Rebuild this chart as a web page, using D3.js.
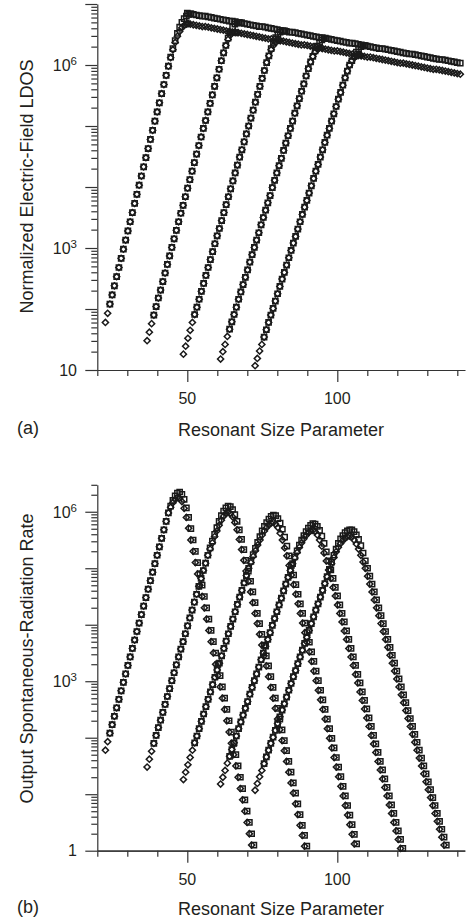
<!DOCTYPE html>
<html><head><meta charset="utf-8">
<script src="https://cdn.jsdelivr.net/npm/d3@7"></script>
<style>
html,body{margin:0;padding:0;background:#fff;}
svg{display:block;}
text{font-family:"Liberation Sans", Arial, Helvetica, sans-serif; fill:#231f20;}
</style></head><body>
<svg id="chart" width="466" height="924"></svg>
<script>
// ---------------- DATA (values are log10 of the plotted quantity) ----------------
const xTickValues = [20,30,40,50,60,70,80,90,100,110,120,130,140];
const xTickLabels = [50,100];
const yLabelValuesA = [10,1000,1000000];
const yLabelTextsA = ["10","10^3","10^6"];
const yLabelValuesB = [1,1000,1000000];
const yLabelTextsB = ["1","10^3","10^6"];
const xTitle = "Resonant Size Parameter";
const yTitleA = "Normalized Electric-Field LDOS";
const yTitleB = "Output Spontaneous-Radiation Rate";

// curve 1
const x1 = [22.7,23.45,24.2,24.95,25.7,26.45,27.2,27.95,28.7,29.45,30.2,30.95,31.7,32.45,33.2,33.95,34.7,35.45,36.2,36.95,37.7,38.45,39.2,39.95,40.7,41.45,42.2,42.95,43.7,44.45,45.2,45.95,46.7,47.45,48.2,48.95,49.7,50.45,51.2,51.95,52.7,53.45,54.2,54.95,55.7,56.45,57.2,57.95,58.7,59.45,60.2,60.95,61.7,62.45,63.2,63.95,64.7,65.45,66.2,66.95,67.7,68.45,69.2,69.95,70.7,71.45,72.2];
const rise1 = [1.78,1.93,2.08,2.23,2.38,2.53,2.68,2.83,2.98,3.13,3.28,3.43,3.58,3.73,3.88,4.03,4.18,4.33,4.48,4.63,4.78,4.93,5.08,5.23,5.38,5.53,5.68,5.83,5.98];
const aTail1D = [6.12,6.25,6.37,6.47,6.55,6.61,6.65,6.67,6.68];
const aTail1S = [6.13,6.27,6.40,6.52,6.62,6.70,6.76,6.80,6.83,6.84];
const bTail1S = [6.10,6.20,6.28,6.33,6.35,6.31,6.22,6.07,5.90,5.70,5.50,5.30,5.10,4.90,4.70,4.50,4.30,4.10,3.90,3.70,3.50,3.30,3.10,2.90,2.70,2.50,2.30,2.10,1.90,1.70,1.50,1.30,1.10,0.90,0.70,0.50,0.30,0.10];
const bTail1D = [6.08,6.16,6.22,6.25,6.24,6.18,6.06,5.90,5.71,5.50,5.30,5.10,4.90,4.70,4.50,4.30,4.10,3.90,3.70,3.50,3.30,3.10,2.90,2.70,2.50,2.30,2.10,1.90,1.70,1.50,1.30,1.10,0.90,0.70,0.50,0.30,0.10];

// curve 2
const x2 = [36.6,37.35,38.1,38.85,39.6,40.35,41.1,41.85,42.6,43.35,44.1,44.85,45.6,46.35,47.1,47.85,48.6,49.35,50.1,50.85,51.6,52.35,53.1,53.85,54.6,55.35,56.1,56.85,57.6,58.35,59.1,59.85,60.6,61.35,62.1,62.85,63.6,64.35,65.1,65.85,66.6,67.35,68.1,68.85,69.6,70.35,71.1,71.85,72.6,73.35,74.1,74.85,75.6,76.35,77.1,77.85,78.6,79.35,80.1,80.85,81.6,82.35,83.1,83.85,84.6,85.35,86.1,86.85,87.6,88.35,89.1,89.85];
const rise2 = [1.48,1.62,1.76,1.90,2.04,2.18,2.31,2.45,2.59,2.73,2.87,3.01,3.15,3.29,3.43,3.57,3.70,3.84,3.98,4.12,4.26,4.40,4.54,4.68,4.82,4.96,5.09,5.23];
const aTail2D = [5.37,5.51,5.65,5.79,5.93,6.07,6.20,6.32,6.42,6.49,6.53,6.54,6.53];
const aTail2S = [5.37,5.51,5.65,5.79,5.93,6.07,6.20,6.32,6.44,6.54,6.62,6.67,6.69,6.70,6.69];
const bTail2S = [5.36,5.48,5.60,5.72,5.83,5.93,6.01,6.07,6.10,6.09,6.04,5.95,5.83,5.68,5.51,5.33,5.14,4.95,4.77,4.58,4.39,4.20,4.02,3.83,3.64,3.45,3.27,3.08,2.89,2.70,2.52,2.33,2.14,1.95,1.77,1.58,1.39,1.20,1.02,0.83,0.64,0.45,0.27,0.08];
const bTail2D = [5.34,5.45,5.56,5.66,5.76,5.85,5.92,5.97,5.99,5.97,5.91,5.81,5.68,5.51,5.33,5.14,4.95,4.77,4.58,4.39,4.20,4.02,3.83,3.64,3.45,3.27,3.08,2.89,2.70,2.52,2.33,2.14,1.95,1.77,1.58,1.39,1.20,1.02,0.83,0.64,0.45,0.27,0.08];

// curve 3
const x3 = [48.7,49.45,50.2,50.95,51.7,52.45,53.2,53.95,54.7,55.45,56.2,56.95,57.7,58.45,59.2,59.95,60.7,61.45,62.2,62.95,63.7,64.45,65.2,65.95,66.7,67.45,68.2,68.95,69.7,70.45,71.2,71.95,72.7,73.45,74.2,74.95,75.7,76.45,77.2,77.95,78.7,79.45,80.2,80.95,81.7,82.45,83.2,83.95,84.7,85.45,86.2,86.95,87.7,88.45,89.2,89.95,90.7,91.45,92.2,92.95,93.7,94.45,95.2,95.95,96.7,97.45,98.2,98.95,99.7,100.45,101.2,101.95,102.7,103.45,104.2,104.95,105.7,106.45];
const rise3 = [1.26,1.39,1.52,1.65,1.78,1.91,2.03,2.16,2.29,2.42,2.55,2.68,2.81,2.94,3.07,3.20,3.32,3.45,3.58,3.71,3.84,3.97,4.10,4.23,4.36,4.49,4.61,4.74,4.87,5.00];
const aTail3D = [5.13,5.26,5.39,5.52,5.65,5.78,5.91,6.04,6.15,6.25,6.32,6.37,6.40,6.40];
const aTail3S = [5.13,5.26,5.39,5.52,5.65,5.78,5.91,6.04,6.15,6.27,6.37,6.45,6.51,6.54,6.56,6.56];
const bTail3S = [5.12,5.24,5.35,5.46,5.56,5.66,5.74,5.81,5.87,5.92,5.94,5.93,5.88,5.80,5.69,5.55,5.39,5.22,5.05,4.88,4.71,4.54,4.37,4.20,4.03,3.86,3.69,3.52,3.35,3.18,3.01,2.84,2.67,2.50,2.33,2.16,1.99,1.82,1.65,1.48,1.31,1.14,0.97,0.80,0.63,0.46,0.29,0.12];
const bTail3D = [5.10,5.21,5.31,5.41,5.50,5.59,5.66,5.72,5.77,5.80,5.81,5.78,5.72,5.62,5.50,5.36,5.22,5.05,4.88,4.71,4.54,4.37,4.20,4.03,3.86,3.69,3.52,3.35,3.18,3.01,2.84,2.67,2.50,2.33,2.16,1.99,1.82,1.65,1.48,1.31,1.14,0.97,0.80,0.63,0.46,0.29,0.12];

// curve 4
const x4 = [61.1,61.85,62.6,63.35,64.1,64.85,65.6,66.35,67.1,67.85,68.6,69.35,70.1,70.85,71.6,72.35,73.1,73.85,74.6,75.35,76.1,76.85,77.6,78.35,79.1,79.85,80.6,81.35,82.1,82.85,83.6,84.35,85.1,85.85,86.6,87.35,88.1,88.85,89.6,90.35,91.1,91.85,92.6,93.35,94.1,94.85,95.6,96.35,97.1,97.85,98.6,99.35,100.1,100.85,101.6,102.35,103.1,103.85,104.6,105.35,106.1,106.85,107.6,108.35,109.1,109.85,110.6,111.35,112.1,112.85,113.6,114.35,115.1,115.85,116.6,117.35,118.1,118.85,119.6,120.35,121.1,121.85];
const rise4 = [1.18,1.30,1.42,1.55,1.67,1.79,1.91,2.03,2.16,2.28,2.40,2.52,2.64,2.77,2.89,3.01,3.13,3.25,3.38,3.50,3.62,3.74,3.86,3.99,4.11,4.23,4.35,4.47,4.60,4.72,4.84,4.96,5.08];
const aTail4D = [5.21,5.33,5.45,5.57,5.69,5.82,5.94,6.05,6.14,6.21,6.26,6.28,6.28];
const aTail4S = [5.21,5.33,5.45,5.57,5.69,5.82,5.94,6.05,6.14,6.23,6.31,6.37,6.41,6.43,6.43];
const bTail4S = [5.20,5.31,5.41,5.50,5.58,5.65,5.71,5.76,5.79,5.78,5.74,5.67,5.57,5.44,5.29,5.13,4.97,4.82,4.66,4.51,4.35,4.20,4.05,3.89,3.74,3.58,3.43,3.28,3.12,2.97,2.81,2.66,2.51,2.35,2.20,2.04,1.89,1.74,1.58,1.43,1.27,1.12,0.97,0.81,0.66,0.50,0.35,0.20,0.04];
const bTail4D = [5.18,5.28,5.37,5.45,5.52,5.58,5.63,5.66,5.67,5.65,5.59,5.50,5.39,5.27,5.13,4.97,4.82,4.66,4.51,4.35,4.20,4.05,3.89,3.74,3.58,3.43,3.28,3.12,2.97,2.81,2.66,2.51,2.35,2.20,2.04,1.89,1.74,1.58,1.43,1.27,1.12,0.97,0.81,0.66,0.50,0.35,0.20,0.04];

// curve 5
const x5 = [72.6,73.35,74.1,74.85,75.6,76.35,77.1,77.85,78.6,79.35,80.1,80.85,81.6,82.35,83.1,83.85,84.6,85.35,86.1,86.85,87.6,88.35,89.1,89.85,90.6,91.35,92.1,92.85,93.6,94.35,95.1,95.85,96.6,97.35,98.1,98.85,99.6,100.35,101.1,101.85,102.6,103.35,104.1,104.85,105.6,106.35,107.1,107.85,108.6,109.35,110.1,110.85,111.6,112.35,113.1,113.85,114.6,115.35,116.1,116.85,117.6,118.35,119.1,119.85,120.6,121.35,122.1,122.85,123.6,124.35,125.1,125.85,126.6,127.35,128.1,128.85,129.6,130.35,131.1,131.85,132.6,133.35,134.1,134.85,135.6,136.35];
const rise5 = [1.07,1.19,1.31,1.42,1.54,1.66,1.78,1.90,2.01,2.13,2.25,2.37,2.49,2.60,2.72,2.84,2.96,3.08,3.19,3.31,3.43,3.55,3.67,3.78,3.90,4.02,4.14,4.26,4.37,4.49,4.61,4.73,4.85];
const aTail5D = [4.96,5.08,5.20,5.32,5.44,5.55,5.67,5.79,5.90,6.00,6.07,6.12,6.15,6.16,6.16];
const aTail5S = [4.96,5.08,5.20,5.32,5.44,5.55,5.67,5.79,5.90,6.00,6.07,6.14,6.21,6.27,6.30,6.32,6.32];
const bTail5S = [4.98,5.11,5.23,5.34,5.44,5.52,5.58,5.63,5.66,5.68,5.68,5.65,5.59,5.51,5.40,5.27,5.13,5.00,4.86,4.72,4.58,4.44,4.30,4.16,4.02,3.88,3.74,3.60,3.46,3.32,3.18,3.04,2.90,2.76,2.62,2.48,2.34,2.20,2.06,1.92,1.78,1.64,1.50,1.36,1.22,1.08,0.94,0.80,0.66,0.52,0.38,0.24,0.10];
const bTail5D = [4.96,5.08,5.19,5.29,5.37,5.44,5.49,5.53,5.56,5.57,5.55,5.50,5.43,5.34,5.23,5.11,5.00,4.86,4.72,4.58,4.44,4.30,4.16,4.02,3.88,3.74,3.60,3.46,3.32,3.18,3.04,2.90,2.76,2.62,2.48,2.34,2.20,2.06,1.92,1.78,1.64,1.50,1.36,1.22,1.08,0.94,0.80,0.66,0.52,0.38,0.24,0.10];

// number of leading diamond-only points per curve
const squareStart = [2,3,5,4,4];

// saturated envelope of panel (a)
const envX = [50,51,52,53,54,55,56,57,58,59,60,61,62,63,64,65,66,67,68,69,70,71,72,73,74,75,76,77,78,79,80,81,82,83,84,85,86,87,88,89,90,91,92,93,94,95,96,97,98,99,100,101,102,103,104,105,106,107,108,109,110,111,112,113,114,115,116,117,118,119,120,121,122,123,124,125,126,127,128,129,130,131,132,133,134,135,136,137,138,139,140,141];
const envUpper = [6.85,6.84,6.83,6.82,6.81,6.80,6.80,6.79,6.78,6.77,6.76,6.75,6.74,6.73,6.72,6.72,6.71,6.70,6.69,6.68,6.67,6.66,6.65,6.64,6.63,6.63,6.62,6.61,6.60,6.59,6.58,6.57,6.56,6.55,6.54,6.54,6.53,6.52,6.51,6.50,6.49,6.48,6.47,6.46,6.45,6.45,6.44,6.43,6.42,6.41,6.40,6.39,6.38,6.37,6.36,6.36,6.35,6.34,6.33,6.32,6.31,6.30,6.29,6.28,6.27,6.27,6.26,6.25,6.24,6.23,6.22,6.21,6.20,6.19,6.18,6.18,6.17,6.16,6.15,6.14,6.13,6.12,6.11,6.10,6.09,6.09,6.08,6.07,6.06,6.05,6.04,6.03];
const envLower = [6.68,6.67,6.66,6.65,6.64,6.63,6.63,6.62,6.61,6.60,6.59,6.58,6.57,6.56,6.55,6.54,6.53,6.53,6.52,6.51,6.50,6.49,6.48,6.47,6.46,6.45,6.44,6.43,6.43,6.42,6.41,6.40,6.39,6.38,6.37,6.36,6.35,6.34,6.33,6.33,6.32,6.31,6.30,6.29,6.28,6.27,6.26,6.25,6.24,6.23,6.23,6.22,6.21,6.20,6.19,6.18,6.17,6.16,6.15,6.14,6.13,6.13,6.12,6.11,6.10,6.09,6.08,6.07,6.06,6.05,6.04,6.03,6.03,6.02,6.01,6.00,5.99,5.98,5.97,5.96,5.95,5.94,5.93,5.93,5.92,5.91,5.90,5.89,5.88,5.87,5.86,5.85];

// ---------------- DRAWING ----------------
const svg = d3.select("#chart");
const ink = "#1a1a1a";
const axisInk = "#333";
const FONT_TICK = "16px", FONT_SUP = "11.5px", FONT_TITLE = "18px";

const xs = [x1,x2,x3,x4,x5];
const rises = [rise1,rise2,rise3,rise4,rise5];
const aD = [aTail1D,aTail2D,aTail3D,aTail4D,aTail5D];
const aS = [aTail1S,aTail2S,aTail3S,aTail4S,aTail5S];
const bD = [bTail1D,bTail2D,bTail3D,bTail4D,bTail5D];
const bS = [bTail1S,bTail2S,bTail3S,bTail4S,bTail5S];

const sqPath = d3.symbol().type(d3.symbolSquare).size(27)();
const diPath = d3.symbol().type(d3.symbolSquare).size(19)();

function pairs(xArr, logArr, skip){
  const out = [];
  logArr.forEach((v,i)=>{ if(i>=skip && xArr[i]!==undefined && v!=null) out.push([xArr[i], Math.pow(10,v)]); });
  return out;
}

function drawMarks(g, pts, kind, x, y){
  g.append("g").selectAll("path").data(pts).enter().append("path")
    .attr("d", kind==="sq" ? sqPath : diPath)
    .attr("transform", p => `translate(${x(p[0]).toFixed(2)},${y(p[1]).toFixed(2)})` + (kind==="di" ? " rotate(45)" : ""))
    .attr("fill","none").attr("stroke",ink).attr("stroke-width",1.5);
}

function panel(cfg){
  const g = svg.append("g");
  const x = d3.scaleLinear().domain([20,142.5]).range([97.3,464.8]);
  const y = d3.scaleLog().domain(cfg.yDomain).range([cfg.bottom, cfg.top]);

  // y ticks
  const lo = Math.log10(cfg.yDomain[0]), hi = Math.log10(cfg.yDomain[1]);
  const majors = [], minors = [];
  for(let e=Math.floor(lo); e<=Math.ceil(hi); e++){
    const d = Math.pow(10,e);
    if(d>=cfg.yDomain[0]*0.999 && d<=cfg.yDomain[1]*1.001) majors.push(d);
    for(let k=2;k<=9;k++){ const v=k*d; if(v>cfg.yDomain[0] && v<=cfg.yDomain[1]*1.001) minors.push(v); }
  }
  const yMajor = g.append("g").attr("transform","translate(97.3,0)")
    .call(d3.axisLeft(y).tickValues(majors).tickSize(12).tickSizeOuter(0).tickFormat(""));
  const yMinor = g.append("g").attr("transform","translate(97.3,0)")
    .call(d3.axisLeft(y).tickValues(minors).tickSize(6).tickSizeOuter(0).tickFormat(""));
  yMinor.select(".domain").remove();

  // x ticks
  const xMinor = g.append("g").attr("transform",`translate(0,${cfg.bottom})`)
    .call(d3.axisBottom(x).tickValues(xTickValues.filter(v=>xTickLabels.indexOf(v)<0)).tickSize(6).tickSizeOuter(0).tickFormat(""));
  const xMajor = g.append("g").attr("transform",`translate(0,${cfg.bottom})`)
    .call(d3.axisBottom(x).tickValues(xTickLabels).tickSize(12).tickSizeOuter(0).tickFormat(""));
  [yMajor,yMinor,xMinor,xMajor].forEach(a=>{
    a.selectAll("path,line").attr("stroke",axisInk).attr("stroke-width",1.2);
  });

  // y labels
  cfg.labelValues.forEach((v,i)=>{
    const parts = cfg.labelTexts[i].split("^");
    const t = g.append("text").attr("x",77).attr("y",y(v)).attr("dy","0.36em")
      .attr("text-anchor","end").style("font-size",FONT_TICK);
    t.append("tspan").text(parts[0]);
    if(parts[1]) t.append("tspan").attr("dy","-0.5em").style("font-size",FONT_SUP).text(parts[1]);
  });
  // x labels
  xTickLabels.forEach(v=>{
    g.append("text").attr("x",x(v)).attr("y",cfg.xLabelY).attr("text-anchor","middle")
      .style("font-size",FONT_TICK).text(v);
  });
  // titles
  g.append("text").attr("x",281).attr("y",cfg.xTitleY).attr("text-anchor","middle")
    .style("font-size",FONT_TITLE).text(xTitle);
  g.append("text").attr("transform",`translate(33,${cfg.yTitleCY}) rotate(-90)`).attr("text-anchor","middle")
    .style("font-size",FONT_TITLE).text(cfg.yTitle);
  g.append("text").attr("x",17).attr("y",cfg.tagY).style("font-size",FONT_TITLE).text(cfg.tag);

  // marks
  const mg = g.append("g");
  for(let c=0;c<5;c++){
    const tailD = cfg.tailsD[c], tailS = cfg.tailsS[c];
    drawMarks(mg, pairs(xs[c], rises[c].concat(tailS), squareStart[c]), "sq", x, y);
    drawMarks(mg, pairs(xs[c], rises[c].concat(tailD), 0), "di", x, y);
  }
  if(cfg.envelope){
    drawMarks(mg, pairs(envX, envUpper, 0), "sq", x, y);
    drawMarks(mg, pairs(envX, envLower, 0), "di", x, y);
  }
}

panel({yDomain:[10,1e7], top:4, bottom:370, labelValues:yLabelValuesA, labelTexts:yLabelTextsA,
  xLabelY:404, xTitleY:436, yTitle:yTitleA, yTitleCY:186.5, tag:"(a)", tagY:434,
  tailsD:aD, tailsS:aS, envelope:true});
panel({yDomain:[1,3e6], top:484.8, bottom:850.7, labelValues:yLabelValuesB, labelTexts:yLabelTextsB,
  xLabelY:885, xTitleY:915, yTitle:yTitleB, yTitleCY:658.5, tag:"(b)", tagY:913,
  tailsD:bD, tailsS:bS, envelope:false});
</script>
</body></html>
